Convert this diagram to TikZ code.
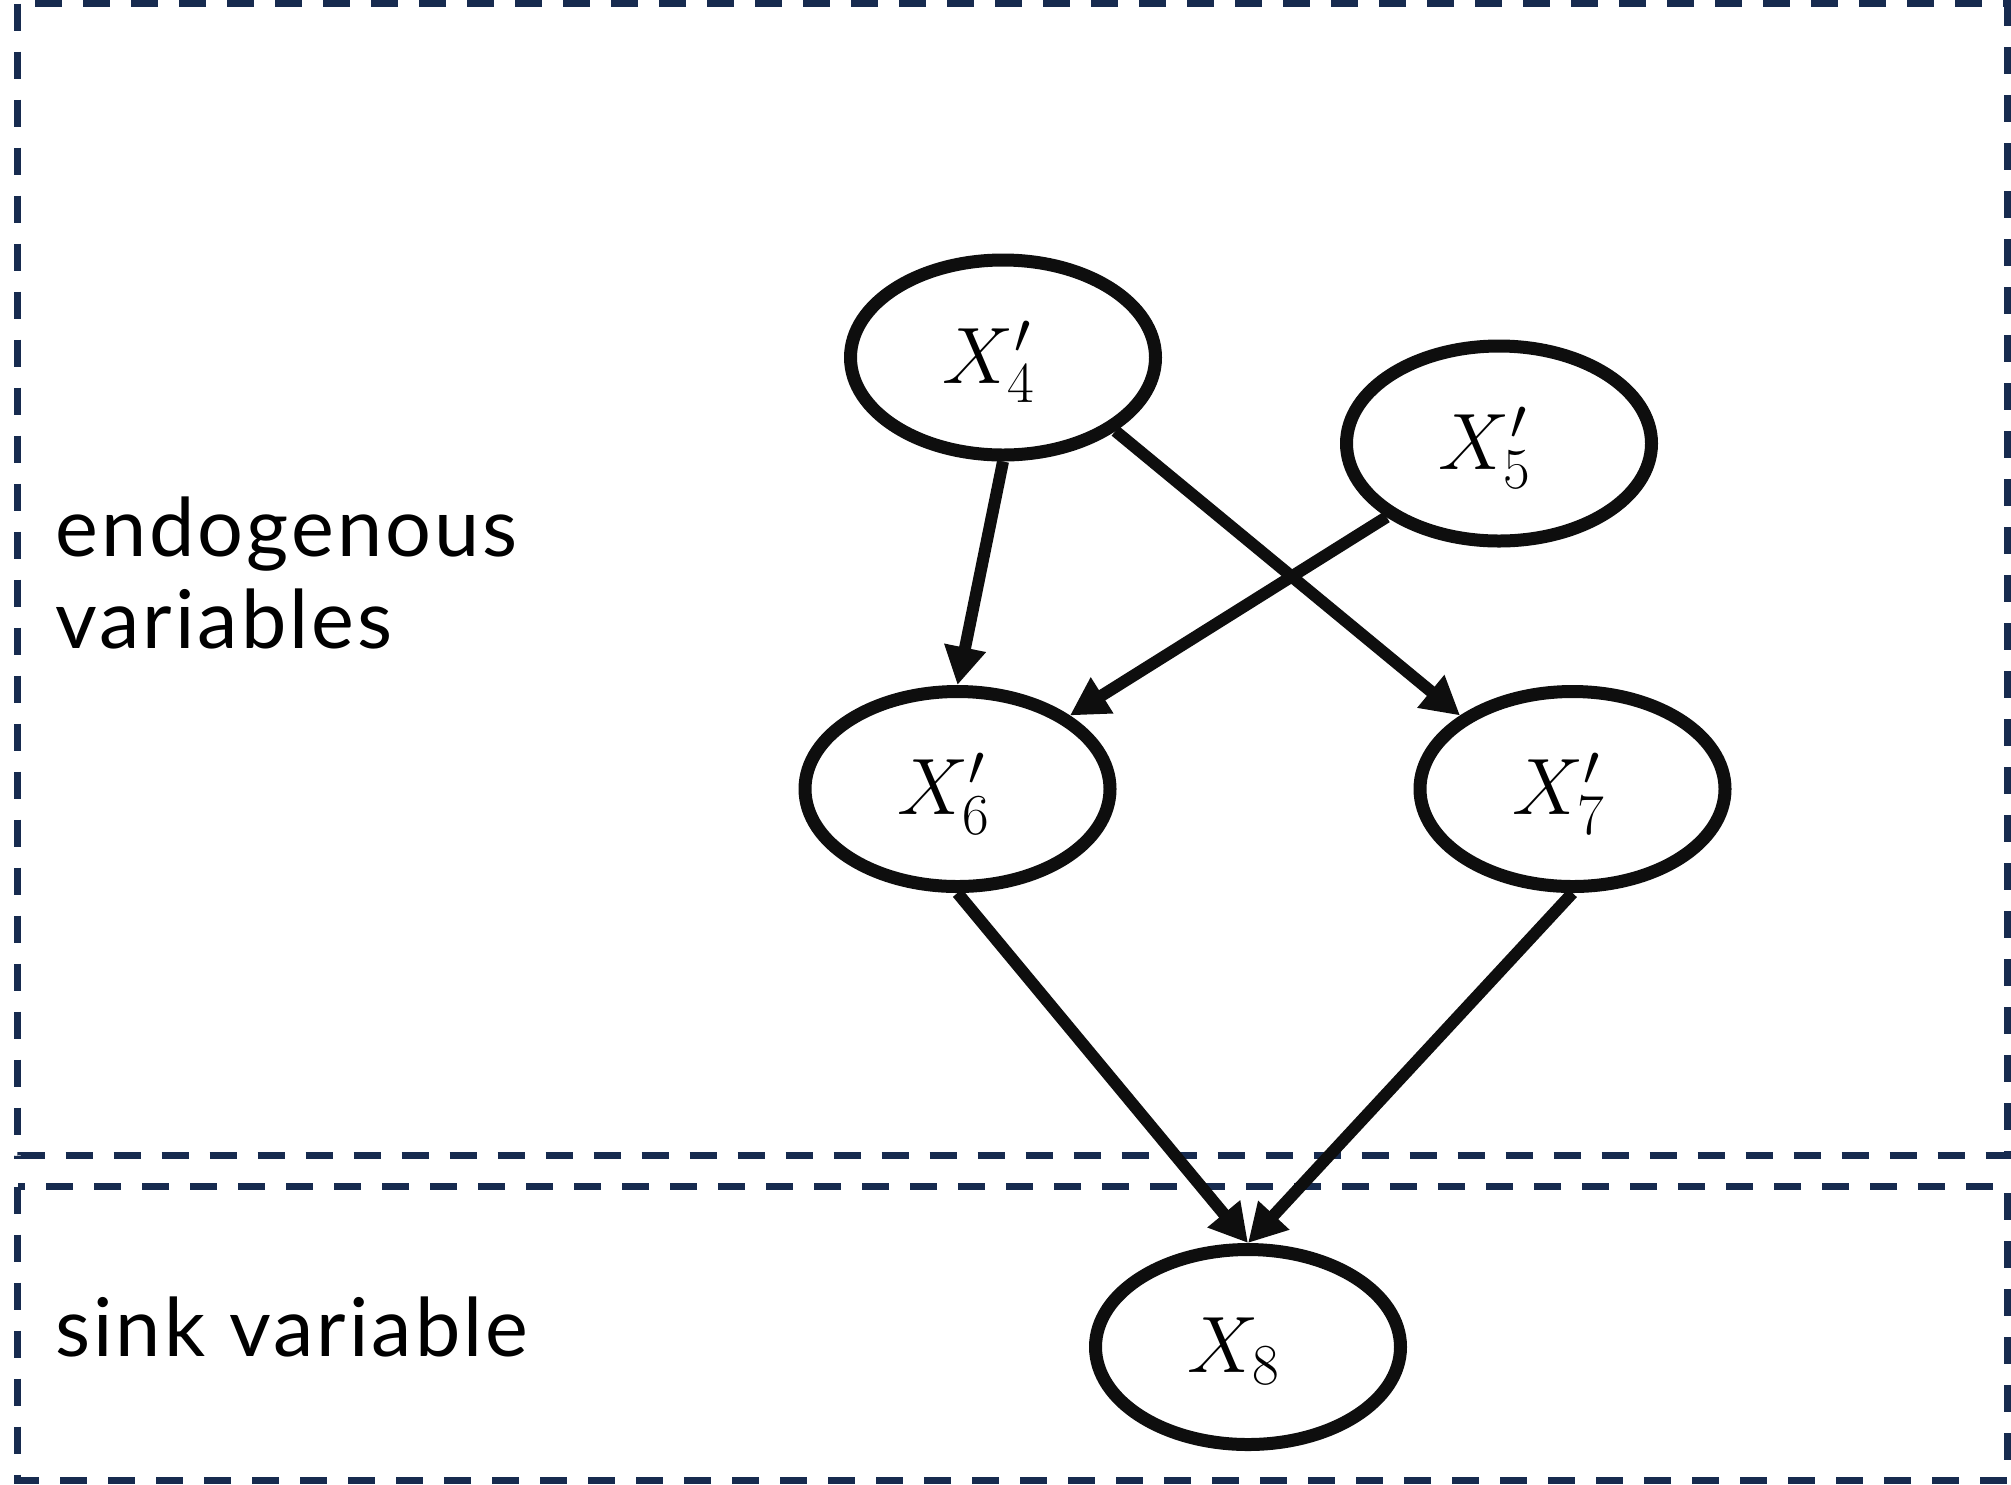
\RequirePackage{fix-cm}
\documentclass[tikz,border=0pt]{standalone}
\usepackage{fontspec}
\usetikzlibrary{arrows.meta,shapes.geometric}
\newfontfamily\labelfont{Lato}[LetterSpace=3.8]
\DeclareMathSizes{40}{40}{29}{22}
\definecolor{boxblue}{RGB}{23,43,79}
\definecolor{ink}{RGB}{14,14,14}
\newcommand{\vartext}[1]{\raisebox{-12.75pt}[0pt][0pt]{$#1$}\hspace{14pt}\null}
\newcommand{\idx}[1]{\hbox{\fontsize{29}{30}\selectfont$#1$}}
\begin{document}
\begin{tikzpicture}[x=0.5pt,y=-0.5pt,
  var/.style={draw=ink, fill=white, line width=6.5pt, ellipse, minimum width=152.5pt, minimum height=97.5pt, inner sep=0pt, font=\fontsize{40}{48}\selectfont},
  edge/.style={draw=ink, line width=6pt, -{Triangle[length=19pt,width=20pt]}},
  region/.style={draw=boxblue, line width=3.5pt, dash pattern=on 13.5pt off 10.5pt},
  lbl/.style={font=\labelfont\fontsize{40.5}{46}\selectfont, align=left, inner sep=0pt}]
\useasboundingbox (0,0) rectangle (2011,1484);
\draw[region] (17.5,3.5) rectangle (2007.5,1155.5);
\draw[region] (17.5,1186.5) rectangle (2007.5,1480);

\node[var] (x4) at (1003,357.5) {\vartext{X'_{\idx{4}}}};
\node[var] (x5) at (1499,443.5) {\vartext{X'_{\idx{5}}}};
\node[var] (x6) at (957.5,789) {\vartext{X'_{\idx{6}}}};
\node[var] (x7) at (1572.5,789) {\vartext{X'_{\idx{7}}}};
\node[var] (x8) at (1248,1347) {\vartext{X_{\idx{8}}}};

\node[lbl, anchor=base west] (endo) at (55,648) {endogenous\\variables};
\node[lbl, anchor=base west] (sink) at (55,1356) {sink variable};

\draw[edge] (x4.south) -- (x6.north);
\draw[edge] (x4.south east) -- (x7.north west);
\draw[edge] (x5.south west) -- (x6.north east);
\draw[edge] (x6.south) -- (x8.north);
\draw[edge] (x7.south) -- (x8.north);
\end{tikzpicture}
\end{document}
